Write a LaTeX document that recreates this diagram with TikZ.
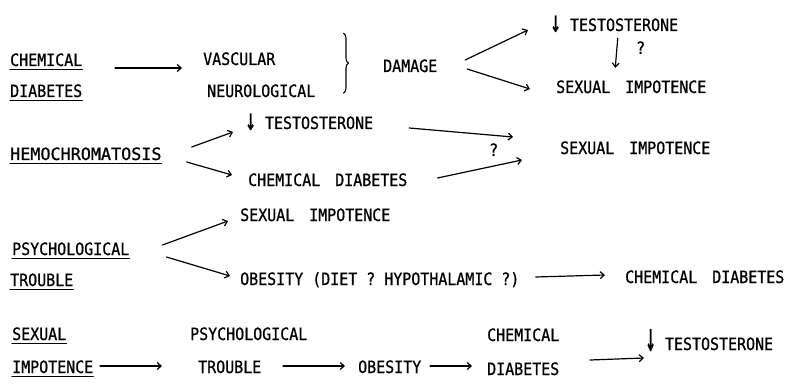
\documentclass[tikz,border=0pt]{standalone}
\usepackage{fontspec}
\newfontfamily\typefont{DejaVu Sans Mono}[FakeStretch=0.88,FakeBold=0.8]
\newcommand{\dn}[1][1.8]{\raisebox{-1pt}{\scalebox{1.2}[#1]{↓}}}
\newcommand{\gap}{\hspace{6pt} }
\usetikzlibrary{arrows.meta,decorations.pathreplacing}

\begin{document}
\begin{tikzpicture}[x=1pt,y=-1pt,line cap=round,line join=round,
  >={Straight Barb[length=4pt,width=7pt]},
  lbl/.style={font=\typefont\fontsize{17}{17}\selectfont,anchor=base west,
    inner sep=0pt,text height=12pt,text depth=0pt},
  arr/.style={->,line width=1.2pt},
  uline/.style={line width=1.1pt}]
  \useasboundingbox (0,0) rectangle (787,385);
  % chemical diabetes
  \node[lbl] (chem) at (10,66) {CHEMICAL};
  \node[lbl] (diab) at (10,97) {DIABETES};
  \node[lbl] (vasc) at (203,65) {VASCULAR};
  \node[lbl] (neuro) at (207,97) {NEUROLOGICAL};
  \node[lbl] (damage) at (383,72) {DAMAGE};
  \node[lbl] (testoA) at (550,31) {\dn\ TESTOSTERONE};
  \node[lbl] (impA) at (556,93) {SEXUAL\gap IMPOTENCE};
  \node[lbl] (qA) at (636,54) {?};
  \draw[arr] ([xshift=32.6pt,yshift=-8pt]chem.east) -- ([xshift=-21pt,yshift=-9pt]vasc.west);
  \draw[line width=1.1pt,decorate,decoration={brace,amplitude=5pt}]
    ([xshift=28pt,yshift=64pt]neuro.south east) -- ([xshift=28pt,yshift=4pt]neuro.south east);
  \draw[arr] ([xshift=27.7pt,yshift=6pt]damage.east) -- ([xshift=-22pt,yshift=-5pt]testoA.west);
  \draw[arr] ([xshift=29.7pt,yshift=-3pt]damage.east) -- ([xshift=-26pt,yshift=-2pt]impA.west);
  \draw[arr] ([xshift=3.6pt,yshift=-7pt]testoA.south) -- ([xshift=-16pt,yshift=13pt]impA.north);
  % hemochromatosis
  \node[lbl] (hemo) at (10,160) {\scalebox{1.12}[1]{HEMOCHROMATOSIS}};
  \node[lbl] (testoB) at (245,129) {\dn\ TESTOSTERONE};
  \node[lbl] (chdiB) at (248,186) {CHEMICAL\gap DIABETES};
  \node[lbl] (impB) at (560,154) {SEXUAL\gap IMPOTENCE};
  \node[lbl] (qB) at (489,156) {?};
  \draw[arr] ([xshift=30pt,yshift=7pt]hemo.east) -- ([xshift=-12pt,yshift=-9pt]testoB.west);
  \draw[arr] ([xshift=25pt,yshift=-8pt]hemo.east) -- ([xshift=-16pt,yshift=5pt]chdiB.west);
  \draw[arr] ([xshift=36pt,yshift=-5pt]testoB.east) -- ([xshift=-47pt,yshift=11pt]impB.west);
  \draw[arr] ([xshift=30pt,yshift=2pt]chdiB.east) -- ([xshift=-38pt,yshift=-12pt]impB.west);
  % psychological trouble
  \node[lbl] (psy) at (12,255) {PSYCHOLOGICAL};
  \node[lbl] (trou) at (10,286) {TROUBLE};
  \node[lbl] (impC) at (240,221) {SEXUAL\gap IMPOTENCE};
  \node[lbl] (obesC) at (240,285) {OBESITY (DIET ? HYPOTHALAMIC ?)};
  \node[lbl] (chdiC) at (625,283) {CHEMICAL\gap DIABETES};
  \draw[arr] ([xshift=33pt,yshift=4pt]psy.east) -- ([xshift=-12pt,yshift=-6pt]impC.west);
  \draw[arr] ([xshift=37pt,yshift=-8pt]psy.east) -- ([xshift=-10pt,yshift=3pt]obesC.west);
  \draw[arr] ([xshift=16pt,yshift=2pt]obesC.east) -- ([xshift=-20pt,yshift=2pt]chdiC.west);
  % sexual impotence
  \node[lbl] (sex) at (12,340) {SEXUAL};
  \node[lbl] (imp) at (12,373) {IMPOTENCE};
  \node[lbl] (psyD) at (190,340) {PSYCHOLOGICAL};
  \node[lbl] (trouD) at (198,373) {TROUBLE};
  \node[lbl] (obesD) at (358,373) {OBESITY};
  \node[lbl] (chemD) at (487,341) {CHEMICAL};
  \node[lbl] (diabD) at (487,375) {DIABETES};
  \node[lbl] (testoD) at (645,350) {\dn[2.4]\ TESTOSTERONE};
  \draw[arr] ([xshift=6.5pt,yshift=1pt]imp.east) -- ([xshift=-36pt,yshift=1pt]trouD.west);
  \draw[arr] ([xshift=21.6pt,yshift=1pt]trouD.east) -- ([xshift=-13pt,yshift=1pt]obesD.west);
  \draw[arr] ([xshift=8.6pt,yshift=1pt]obesD.east) -- ([xshift=-15pt,yshift=3pt]diabD.west);
  \draw[arr] ([xshift=30.6pt,yshift=9pt]diabD.east) -- ([xshift=-1pt,yshift=-14pt]testoD.west);
  % underlines
  \foreach \n in {chem,diab,hemo,psy,trou,sex,imp}
    \draw[uline] ([yshift=-3pt]\n.south west) -- ([yshift=-3pt]\n.south east);
\end{tikzpicture}
\end{document}
